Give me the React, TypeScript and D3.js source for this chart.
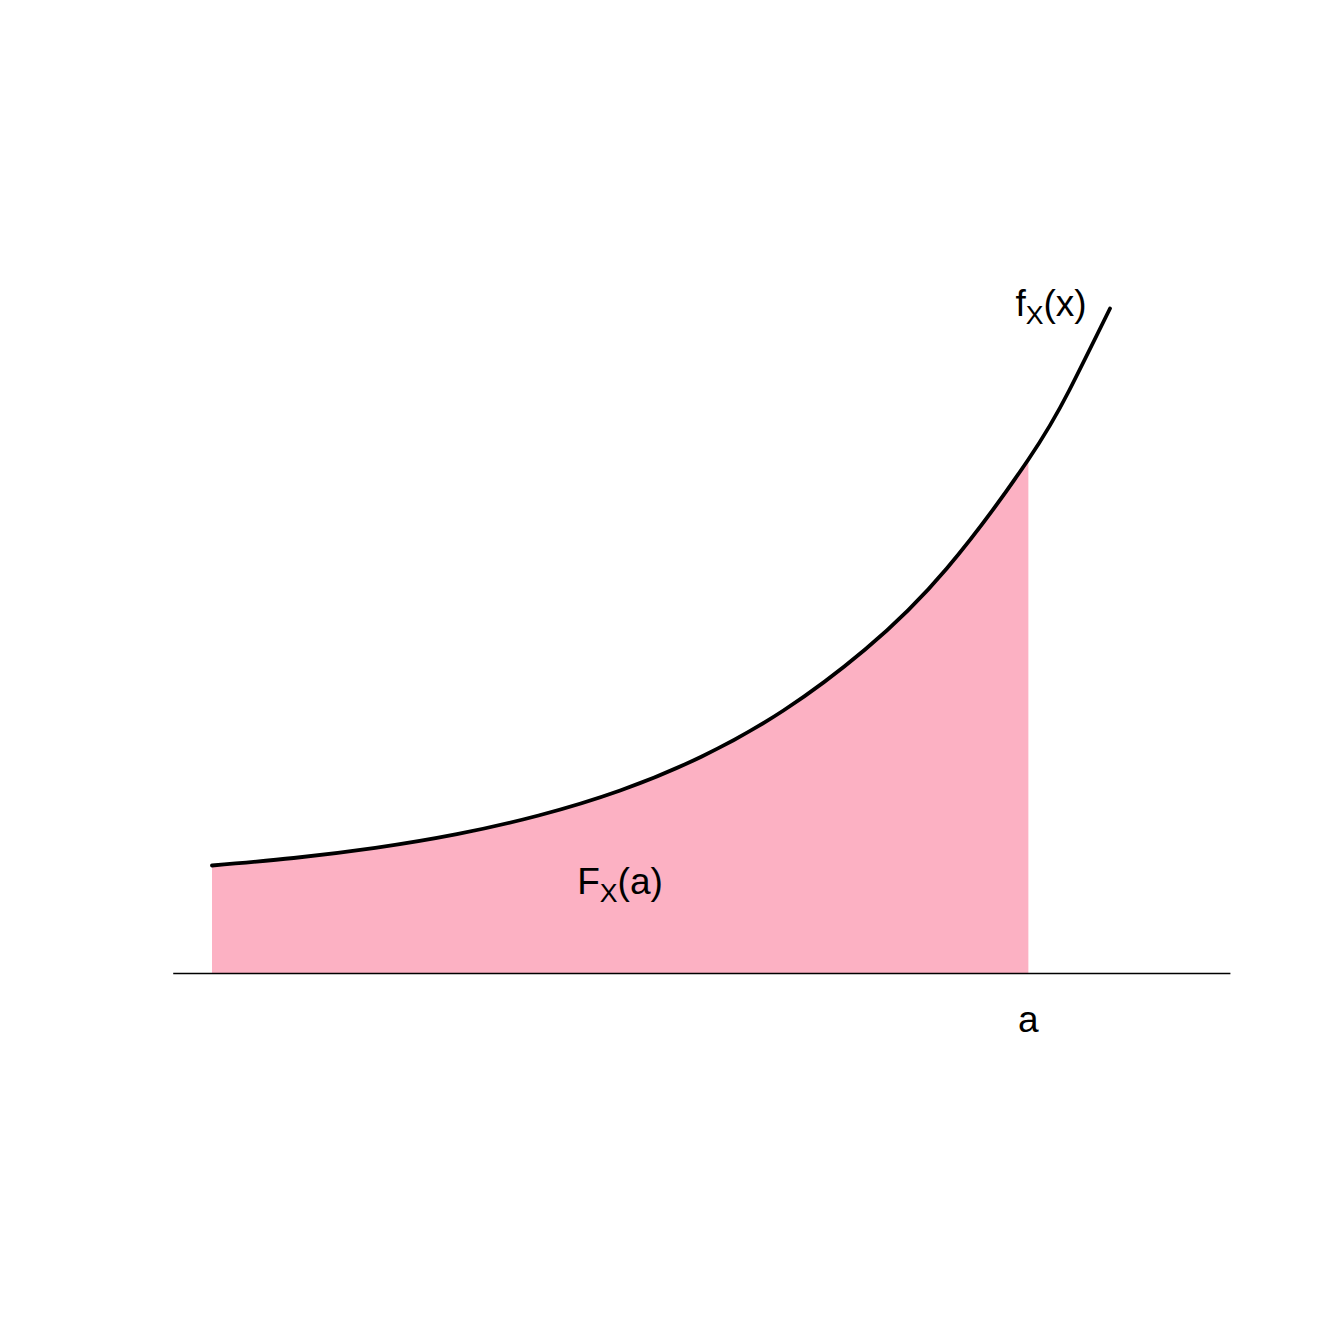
import React from "react";
import * as d3 from "d3";

// density curve (x in units where a = 1)
const xValues = [0, 0.1, 0.2, 0.3, 0.4, 0.5, 0.6, 0.7, 0.8, 0.9, 1.0, 1.05, 1.1];
const densityValues = [1.08, 1.155, 1.256, 1.393, 1.58, 1.83, 2.17, 2.63, 3.24, 4.05, 5.14, 5.83, 6.65];
const aValue = 1.0;
const axisRange = [-0.0475, 1.2475];
const labels = { curve: "f", cdf: "F", sub: "X", curveArg: "(x)", cdfArg: "(a)", a: "a" };

const W = 1320;
const H = 1320;

export default function App() {
  const xs = d3.scaleLinear().domain([0, 1.1]).range([212, 1110]);
  const ys = d3.scaleLinear().domain([0, 7]).range([973.5, 273.5]);
  const pts = xValues.map((x, i) => [x, densityValues[i]] as [number, number]);

  const line = d3
    .line<[number, number]>()
    .x((d) => xs(d[0]))
    .y((d) => ys(d[1]))
    .curve(d3.curveNatural);
  const area = d3
    .area<[number, number]>()
    .x((d) => xs(d[0]))
    .y0(ys(0))
    .y1((d) => ys(d[1]))
    .curve(d3.curveNatural);

  const font = "Liberation Sans, Arial, Helvetica, sans-serif";
  const fs = 37;
  const sub = fs * 0.72;
  const dy = 8;

  return (
    <svg
      width={W}
      height={H}
      style={{ position: "absolute", left: 0, top: 0, background: "#fff" }}
      fontFamily={font}
    >
      <defs>
        <clipPath id="clipA">
          <rect x={0} y={0} width={xs(aValue)} height={H} />
        </clipPath>
      </defs>
      <path d={area(pts) || ""} fill="#FCB1C3" clipPath="url(#clipA)" />
      <line
        x1={xs(axisRange[0])}
        x2={xs(axisRange[1])}
        y1={ys(0)}
        y2={ys(0)}
        stroke="#000"
        strokeWidth={1.4}
      />
      <path d={line(pts) || ""} fill="none" stroke="#000" strokeWidth={3.8} strokeLinecap="round" />
      <text x={1051} y={316} fontSize={fs} textAnchor="middle" fill="#000">
        {labels.curve}
        <tspan fontSize={sub} dy={dy}>{labels.sub}</tspan>
        <tspan dy={-dy}>{labels.curveArg}</tspan>
      </text>
      <text x={620} y={894} fontSize={fs} textAnchor="middle" fill="#000">
        {labels.cdf}
        <tspan fontSize={sub} dy={dy}>{labels.sub}</tspan>
        <tspan dy={-dy}>{labels.cdfArg}</tspan>
      </text>
      <text x={xs(aValue)} y={1032} fontSize={fs} textAnchor="middle" fill="#000">
        {labels.a}
      </text>
    </svg>
  );
}
